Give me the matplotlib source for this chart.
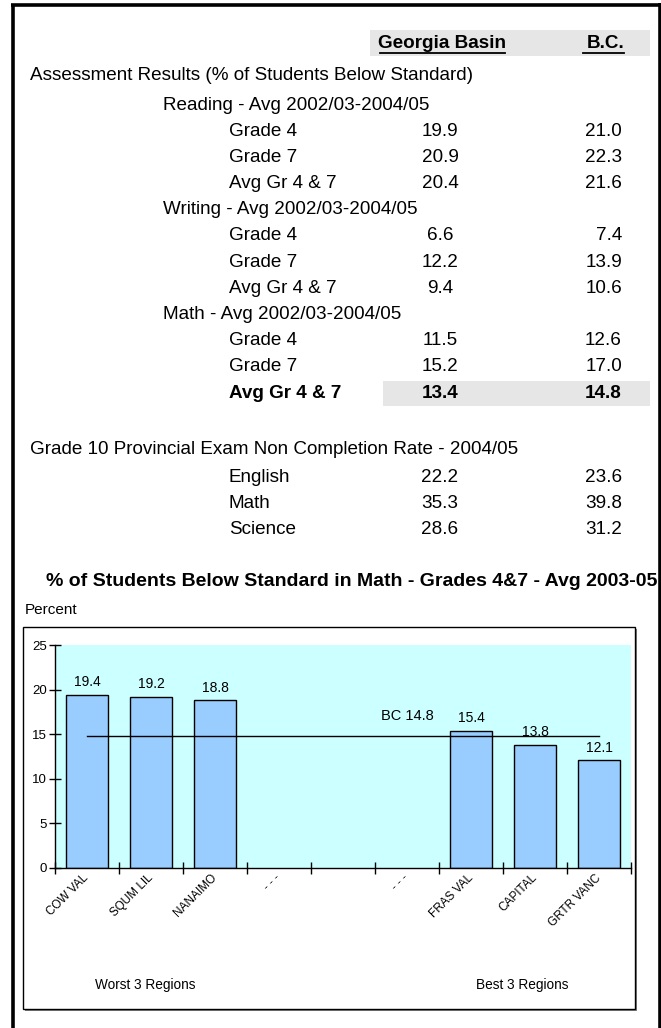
import matplotlib
matplotlib.use('Agg')
import matplotlib.pyplot as plt
import matplotlib.transforms as mtransforms
from matplotlib.patches import Rectangle

plt.rcParams['font.family'] = ['Liberation Sans', 'DejaVu Sans']

# ---------------- data ----------------
col_headers = ['Georgia Basin', 'B.C.']
section1_title = 'Assessment Results (% of Students Below Standard)'
subject_titles = ['Reading - Avg 2002/03-2004/05',
                  'Writing - Avg 2002/03-2004/05',
                  'Math - Avg 2002/03-2004/05']
grade_rows = ['Grade 4', 'Grade 7', 'Avg Gr 4 & 7']
gb_reading = [19.9, 20.9, 20.4]
bc_reading = [21.0, 22.3, 21.6]
gb_writing = [6.6, 12.2, 9.4]
bc_writing = [7.4, 13.9, 10.6]
gb_math = [11.5, 15.2, 13.4]
bc_math = [12.6, 17.0, 14.8]
section2_title = 'Grade 10 Provincial Exam Non Completion Rate - 2004/05'
exam_subjects = ['English', 'Math', 'Science']
gb_exam = [22.2, 35.3, 28.6]
bc_exam = [23.6, 39.8, 31.2]

chart_title = '% of Students Below Standard in Math - Grades 4&7 - Avg 2003-05'
y_label = 'Percent'
regions = ['COW VAL', 'SQUM LIL', 'NANAIMO', '- - -', '', '- - -',
           'FRAS VAL', 'CAPITAL', 'GRTR VANC']
region_values = [19.4, 19.2, 18.8, None, None, None, 15.4, 13.8, 12.1]
bc_average = 14.8
bc_label = 'BC 14.8'
group_labels = ['Worst 3 Regions', 'Best 3 Regions']

# ---------------- figure ----------------
W, H = 661, 1028
fig = plt.figure(figsize=(W / 100, H / 100), dpi=100)
ov = fig.add_axes([0, 0, 1, 1])
ov.set_xlim(0, W)
ov.set_ylim(H, 0)
ov.axis('off')

# outer frame
ov.plot([12.5, 12.5], [4, H], color='black', lw=2.6, solid_capstyle='butt')
ov.plot([11, 661], [4.5, 4.5], color='black', lw=2.6, solid_capstyle='butt')
ov.plot([659.5, 659.5], [3, H], color='black', lw=2.6, solid_capstyle='butt')

FS = 13.6
stipple = '#e6e6e6'

# header shading
ov.add_patch(Rectangle((370, 30), 280, 26, facecolor=stipple, edgecolor='none'))
ov.text(442, 43, col_headers[0], fontsize=FS, fontweight='bold', ha='center', va='center')
ov.text(624, 43, col_headers[1], fontsize=FS, fontweight='bold', ha='right', va='center')
ov.plot([380, 505], [52.5, 52.5], color='black', lw=1.3)
ov.plot([583, 624], [52.5, 52.5], color='black', lw=1.3)

ov.text(30, 75, section1_title, fontsize=FS, ha='left', va='center')

gb_all = [gb_reading, gb_writing, gb_math]
bc_all = [bc_reading, bc_writing, bc_math]
y = 105
step = 26.2
for s in range(3):
    ov.text(163, y, subject_titles[s], fontsize=FS, ha='left', va='center')
    y += step
    for r in range(3):
        bold = (s == 2 and r == 2)
        fw = 'bold' if bold else 'normal'
        if bold:
            ov.add_patch(Rectangle((383, y - 12), 267, 25, facecolor=stipple, edgecolor='none'))
        ov.text(229, y, grade_rows[r], fontsize=FS, ha='left', va='center', fontweight=fw)
        ov.text(440, y, f'{gb_all[s][r]:.1f}', fontsize=FS, ha='center', va='center', fontweight=fw)
        ov.text(622, y, f'{bc_all[s][r]:.1f}', fontsize=FS, ha='right', va='center', fontweight=fw)
        y += step

ov.text(30, 450, section2_title, fontsize=FS, ha='left', va='center')
y = 478
for r in range(3):
    ov.text(229, y, exam_subjects[r], fontsize=FS, ha='left', va='center')
    ov.text(440, y, f'{gb_exam[r]:.1f}', fontsize=FS, ha='center', va='center')
    ov.text(622, y, f'{bc_exam[r]:.1f}', fontsize=FS, ha='right', va='center')
    y += 26

# chart title & y label
ov.text(352, 581, chart_title, fontsize=14, fontweight='bold', ha='center', va='center')
ov.text(25, 610, y_label, fontsize=11, ha='left', va='center')

# chart box with shadow
ov.add_patch(Rectangle((25, 629), 612, 382, facecolor='#808080', edgecolor='none', zorder=1))
ov.add_patch(Rectangle((23, 627), 612, 382, facecolor='white', edgecolor='black', lw=1.0, zorder=2))

ov.text(145, 985, group_labels[0], fontsize=9.8, ha='center', va='center', zorder=3)
ov.text(522, 985, group_labels[1], fontsize=9.8, ha='center', va='center', zorder=3)

# ---------------- bar chart ----------------
L, R, T, B = 55, 631, 645, 868
ax = fig.add_axes([L / W, (H - B) / H, (R - L) / W, (B - T) / H])
ax.set_facecolor('#ccffff')
n = len(regions)
xs = list(range(n))
bx = [i for i, v in zip(xs, region_values) if v is not None]
bv = [v for v in region_values if v is not None]
ax.bar(bx, bv, width=0.66, color='#99ccff', edgecolor='black', linewidth=1.0, zorder=2)
for xi, v in zip(bx, bv):
    ax.annotate(f'{v:.1f}', (xi, v), xytext=(0, 4), textcoords='offset points',
                ha='center', va='bottom', fontsize=10)
ax.plot([0, n - 1], [bc_average, bc_average], color='black', lw=1.0, zorder=3)
ax.annotate(bc_label, (5, bc_average), xytext=(0, 9), textcoords='offset points',
            ha='center', va='bottom', fontsize=10.5)

ax.set_xlim(-0.5, n - 0.5)
ax.set_ylim(0, 25)
ax.set_yticks([0, 5, 10, 15, 20, 25])
ax.set_xticks([i - 0.5 for i in range(n + 1)])
ax.set_xticklabels([])
ax.set_xticks(xs, minor=True)
ax.set_xticklabels(regions, minor=True, rotation=45, ha='right', va='center',
                   rotation_mode='anchor', fontsize=8.5)
shift = mtransforms.ScaledTranslation(-3 / 72, -4 / 72, fig.dpi_scale_trans)
for lbl in ax.get_xticklabels(minor=True):
    lbl.set_transform(lbl.get_transform() + shift)
ax.tick_params(axis='x', which='major', direction='inout', length=8, width=1)
ax.tick_params(axis='x', which='minor', length=0, pad=6)
ax.tick_params(axis='y', direction='inout', length=8, width=1, labelsize=9.5, pad=2)
for sp in ['top', 'right']:
    ax.spines[sp].set_visible(False)
ax.spines['left'].set_linewidth(1.0)
ax.spines['bottom'].set_linewidth(1.0)

fig.savefig('out.png', dpi=100)
